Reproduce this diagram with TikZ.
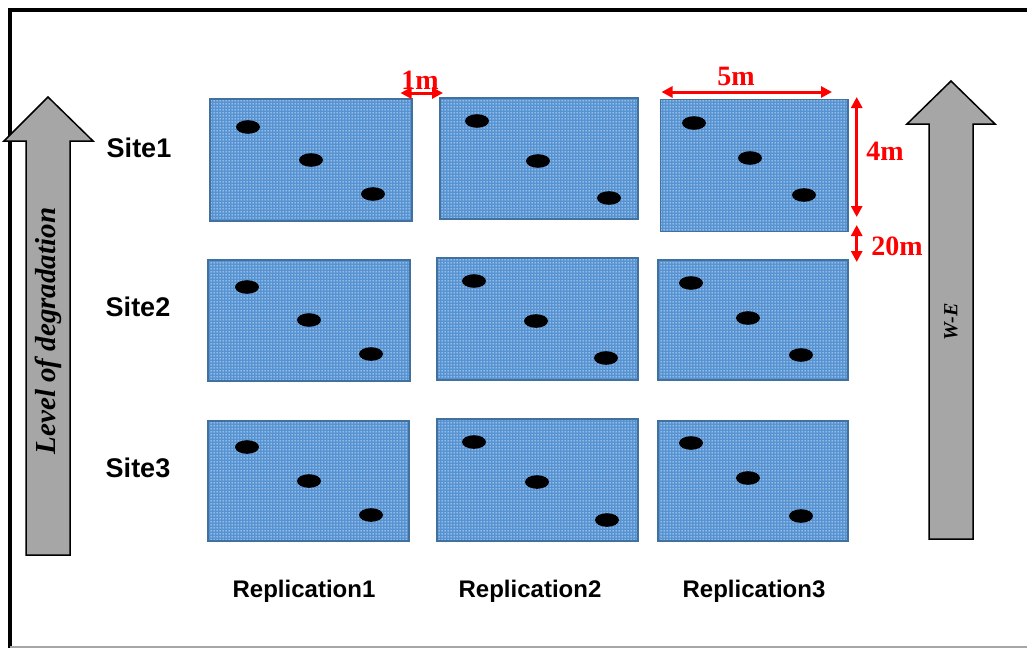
\documentclass[tikz,border=0pt]{standalone}
\usepackage{fontspec}
\setmainfont{Liberation Serif}
\setsansfont{Liberation Sans}
\usetikzlibrary{arrows.meta,patterns.meta}
\definecolor{plotblue}{HTML}{5593D3}
\definecolor{plotedge}{HTML}{41719C}
\definecolor{arrowgray}{HTML}{A6A6A6}
\definecolor{dimred}{HTML}{FF0000}
\pgfdeclarepattern{name=wdots, type=uncolored,
  bottom left={\pgfpoint{0pt}{0pt}}, top right={\pgfpoint{3pt}{3pt}},
  tile size={\pgfpoint{3pt}{3pt}},
  code={\pgfpathrectangle{\pgfpoint{0.7pt}{0.7pt}}{\pgfpoint{1.5pt}{1.5pt}}\pgfusepath{fill}}}
\tikzset{
  plot/.style={draw=plotedge, line width=1.5pt, preaction={fill=plotblue},
    pattern=wdots, pattern color=white!92!plotblue, inner sep=0pt, rectangle},
  hole/.style={fill=black},
  sitelab/.style={font=\sffamily\bfseries\fontsize{27}{27}\selectfont},
  replab/.style={font=\sffamily\bfseries\fontsize{24}{24}\selectfont},
  dimlab/.style={text=dimred, font=\bfseries\fontsize{28}{28}\selectfont},
  dimarrow/.style={draw=dimred, line width=3pt,
    arrows={Triangle[length=11pt,width=11pt]-Triangle[length=11pt,width=11pt]}},
  blockarrow/.style={fill=arrowgray, draw=black, line width=1.5pt, line join=miter},
  arrowtext/.style={rotate=90, font=\bfseries\itshape\fontsize{#1}{#1}\selectfont}
}
\begin{document}
\begin{tikzpicture}[x=1pt,y=-1pt]
\useasboundingbox (0,0) rectangle (1027,648);
\fill[white] (0,0) rectangle (1027,648);
% frame
\draw[line width=4pt] (9.5,648) -- (9.5,9.5) -- (1027,9.5);
\draw[gray!70, line width=1.5pt] (9.5,647) -- (1027,647);

% block arrows
\draw[blockarrow] (26,555) -- (26,141) -- (4,141) -- (48,97) -- (93,141) -- (70,141) -- (70,555) -- cycle;
\node[arrowtext=29] (lod) at (48,331) {Level of degradation};
\draw[blockarrow] (929,539) -- (929,124) -- (907,124) -- (951,81) -- (995,124) -- (973,124) -- (973,539) -- cycle;
\node[arrowtext=20] (we) at (951,322) {W-E};

% plots
\node[plot, minimum width=202pt, minimum height=122pt] (r11) at (311,160) {};
\node[plot, minimum width=198pt, minimum height=121pt] (r12) at (539,158.5) {};
\node[plot, minimum width=187.5pt, minimum height=132pt] (r13) at (754,165.5) {};
\node[plot, minimum width=202pt, minimum height=121pt] (r21) at (309,320.5) {};
\node[plot, minimum width=201pt, minimum height=122pt] (r22) at (537.5,319) {};
\node[plot, minimum width=190pt, minimum height=120pt] (r23) at (753,320) {};
\node[plot, minimum width=201pt, minimum height=120pt] (r31) at (308.5,481) {};
\node[plot, minimum width=201pt, minimum height=122pt] (r32) at (537.5,480) {};
\node[plot, minimum width=190pt, minimum height=120pt] (r33) at (753,481) {};

% sampling points
\foreach \p in {(248,127),(311,160),(373,194),
                (477,121),(538,161),(609,198),
                (694,123),(750,158),(804,195),
                (247,287),(309,320),(371,354),
                (474,281),(536,321),(606,358),
                (691,283),(748,318),(801,355),
                (247,447),(309,481),(371,515),
                (474,442),(537,482),(607,520),
                (691,443),(748,478),(801,516)}
  \fill[hole] \p ellipse [x radius=12pt, y radius=6.8pt];

% labels
\node[sitelab] (s1) at (139,148) {Site1};
\node[sitelab] (s2) at (138,307) {Site2};
\node[sitelab] (s3) at (138,468) {Site3};
\node[replab] (rep1) at (304,591) {Replication1};
\node[replab] (rep2) at (530,591) {Replication2};
\node[replab] (rep3) at (754,591) {Replication3};

% dimensions
\coordinate (d1a) at (400.5,93);
\coordinate (d1b) at (443,93);
\coordinate (d5a) at (661.5,92);
\coordinate (d5b) at (832,92);
\coordinate (d4a) at (856.7,97);
\coordinate (d4b) at (856.7,217);
\coordinate (d20a) at (856.7,225);
\coordinate (d20b) at (856.7,262);
\draw[dimarrow] (d1a) -- (d1b);
\draw[dimarrow] (d5a) -- (d5b);
\draw[dimarrow] (d4a) -- (d4b);
\draw[dimarrow] (d20a) -- (d20b);
\node[dimlab] (l1) at (420,80) {1m};
\node[dimlab] (l5) at (736,76) {5m};
\node[dimlab] (l4) at (885,151) {4m};
\node[dimlab] (l20) at (897,246) {20m};
\end{tikzpicture}
\end{document}
